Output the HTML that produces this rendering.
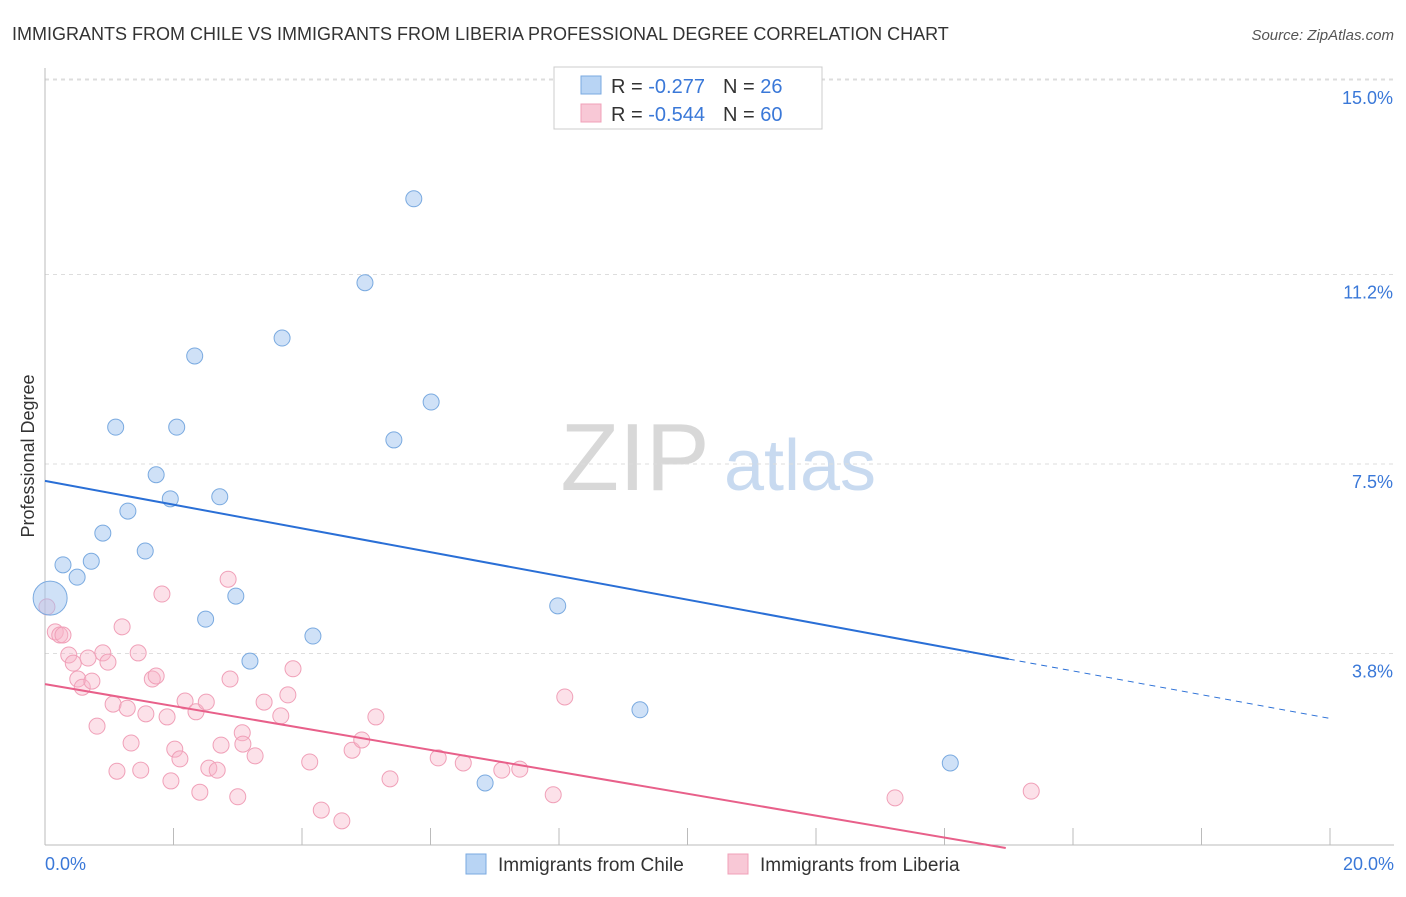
<!DOCTYPE html>
<html><head><meta charset="utf-8"><style>
body{margin:0;background:#fff;font-family:"Liberation Sans",sans-serif;}
svg text{font-family:"Liberation Sans",sans-serif;}
</style></head><body>
<svg id="chart" width="1406" height="892">
<text x="12" y="40" font-size="18" fill="#333">IMMIGRANTS FROM CHILE VS IMMIGRANTS FROM LIBERIA PROFESSIONAL DEGREE CORRELATION CHART</text>
<text x="1394" y="40" font-size="15" fill="#555" text-anchor="end" font-style="italic">Source: ZipAtlas.com</text>
<g>
<text x="635" y="490" font-size="96" fill="#d8d8d8" text-anchor="middle" font-family="Liberation Serif,serif">ZIP</text>
<text x="800" y="490" font-size="72" fill="#c8daf0" text-anchor="middle">atlas</text>
</g>
<g id="grid"></g>
<g id="axes"></g>
<g id="marks"></g>
<text transform="translate(34,456) rotate(-90)" font-size="18" fill="#333" text-anchor="middle">Professional Degree</text>
<g>
<rect x="554" y="67" width="268" height="62" fill="#fff" stroke="#ccc"/>
<rect x="581" y="76" width="20" height="18" fill="#b8d4f4" stroke="#7aaae0"/>
<text x="611" y="93" font-size="20" fill="#333">R = <tspan fill="#3a78d8">-0.277</tspan><tspan dx="18">N = </tspan><tspan fill="#3a78d8">26</tspan></text>
<rect x="581" y="104" width="20" height="18" fill="#f8c8d6" stroke="#f0a0b8"/>
<text x="611" y="121" font-size="20" fill="#333">R = <tspan fill="#3a78d8">-0.544</tspan><tspan dx="18">N = </tspan><tspan fill="#3a78d8">60</tspan></text>
</g>
<g>
<rect x="466" y="854" width="20" height="20" fill="#b8d4f4" stroke="#7aaae0"/>
<text x="498" y="871" font-size="19" fill="#333">Immigrants from Chile</text>
<rect x="728" y="854" width="20" height="20" fill="#f8c8d6" stroke="#f0a0b8"/>
<text x="760" y="871" font-size="19" fill="#333">Immigrants from Liberia</text>
</g>
</svg>
<script>
const chileX=[0.08,0.28,0.5,0.72,0.9,1.1,1.29,1.56,1.73,1.95,2.05,2.33,2.5,2.72,2.97,3.19,3.69,4.17,4.98,5.43,5.74,6.01,6.85,7.98,9.26,14.09];
const chileY=[4.88,5.53,5.29,5.6,6.15,8.22,6.58,5.8,7.29,6.82,8.22,9.61,4.47,6.86,4.92,3.65,9.96,4.14,11.04,7.97,12.68,8.71,1.27,4.73,2.7,1.66];
const liberiaX=[0.03,0.16,0.23,0.28,0.37,0.44,0.51,0.58,0.67,0.73,0.81,0.90,0.98,1.06,1.12,1.20,1.28,1.34,1.45,1.49,1.57,1.67,1.73,1.82,1.90,1.96,2.02,2.10,2.18,2.35,2.41,2.51,2.55,2.68,2.74,2.85,2.88,3.00,3.07,3.08,3.27,3.41,3.67,3.78,3.86,4.12,4.30,4.62,4.78,4.93,5.15,5.37,6.12,6.51,7.11,7.39,7.91,8.09,13.23,15.35];
const liberiaY=[4.71,4.22,4.16,4.16,3.77,3.61,3.30,3.14,3.71,3.26,2.38,3.81,3.63,2.81,1.50,4.32,2.73,2.05,3.81,1.52,2.62,3.30,3.36,4.96,2.56,1.31,1.93,1.74,2.87,2.66,1.09,2.85,1.56,1.52,2.01,5.25,3.30,1.00,2.25,2.03,1.80,2.85,2.58,2.99,3.50,1.68,0.74,0.53,1.91,2.11,2.56,1.35,1.76,1.66,1.52,1.54,1.04,2.95,0.98,1.11];
const yTicks=[15.0,11.2,7.5,3.8];
const xTickVals=[0,2,4,6,8,10,12,14,16,18,20];
const chileTrend=[7.17,-0.232];
const liberiaTrend=[3.20,-0.214];
const NS='http://www.w3.org/2000/svg';
const X=v=>45+v*64.25, Y=v=>848-v*51.2;
function mk(t,a,p){const e=document.createElementNS(NS,t);for(const k in a)e.setAttribute(k,a[k]);document.getElementById(p).appendChild(e);return e;}
// grid
let g=mk('line',{x1:45,x2:1394,y1:79,y2:79,stroke:'#ddd','stroke-dasharray':'4,4'},'grid');


yTicks.forEach(t=>{
 const l=mk('line',{x1:45,x2:1394,y1:Y(t),y2:Y(t),stroke:'#ddd','stroke-dasharray':'4,4'},'grid');
 
 
 const tx=mk('text',{x:1393,y:Y(t)+24,'font-size':18,fill:'#3a78d8','text-anchor':'end'},'grid');
 tx.textContent=t.toFixed(1)+'%';
 
 
});
let a=mk('line',{x1:45,x2:45,y1:68,y2:845,stroke:'#bbb'},'axes');


a=mk('line',{x1:45,x2:1394,y1:845,y2:845,stroke:'#bbb'},'axes');


xTickVals.forEach(t=>{
 const l=mk('line',{x1:X(t),x2:X(t),y1:828,y2:845,stroke:'#bbb'},'axes');
 
 
});
let lx=mk('text',{x:45,y:870,'font-size':18,fill:'#3a78d8'},'axes');lx.textContent=xTickVals[0].toFixed(1)+'%';


lx=mk('text',{x:1394,y:870,'font-size':18,fill:'#3a78d8','text-anchor':'end'},'axes');lx.textContent=xTickVals[xTickVals.length-1].toFixed(1)+'%';


// points
liberiaX.forEach((x,i)=>{
 const c=mk('circle',{cx:X(x),cy:Y(liberiaY[i]),r:8,fill:'rgba(248,180,200,0.4)',stroke:'#f0a0b8','stroke-width':1},'marks');
 
 
});
chileX.forEach((x,i)=>{
 const c=mk('circle',{cx:X(x),cy:Y(chileY[i]),r:i==0?17:8,fill:'rgba(160,196,240,0.5)',stroke:'#7aaae0','stroke-width':1},'marks');
 
 
});
// trends
const cEnd=15;
let t=mk('line',{x1:X(0),y1:Y(chileTrend[0]),x2:X(cEnd),y2:Y(chileTrend[0]+chileTrend[1]*cEnd),stroke:'#2a6fd6','stroke-width':2},'marks');


t=mk('line',{x1:X(cEnd),y1:Y(chileTrend[0]+chileTrend[1]*cEnd),x2:X(20),y2:Y(chileTrend[0]+chileTrend[1]*20),stroke:'#2a6fd6','stroke-width':1,'stroke-dasharray':'6,5'},'marks');


const lEnd=-liberiaTrend[0]/liberiaTrend[1];
t=mk('line',{x1:X(0),y1:Y(liberiaTrend[0]),x2:X(lEnd),y2:Y(0),stroke:'#e8608a','stroke-width':2},'marks');


</script>
</body></html>
